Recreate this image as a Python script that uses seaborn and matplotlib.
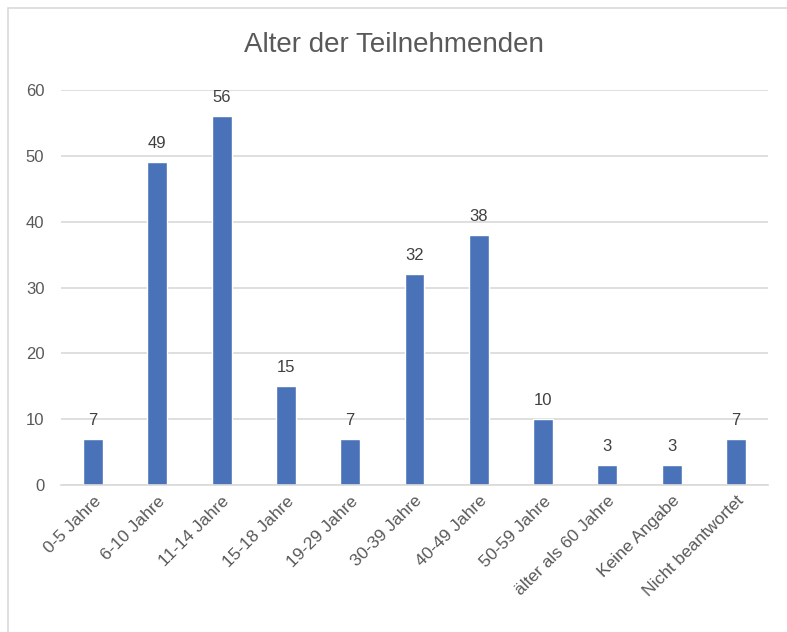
import numpy as np
import pandas as pd
import matplotlib
matplotlib.use("Agg")
import matplotlib.pyplot as plt
import seaborn as sns

# Daten aus dem Diagramm
kategorien = ["0-5 Jahre", "6-10 Jahre", "11-14 Jahre", "15-18 Jahre", "19-29 Jahre",
              "30-39 Jahre", "40-49 Jahre", "50-59 Jahre", "älter als 60 Jahre",
              "Keine Angabe", "Nicht beantwortet"]
anzahl = [7, 49, 56, 15, 7, 32, 38, 10, 3, 3, 7]
y_ticks = [0, 10, 20, 30, 40, 50, 60]

df = pd.DataFrame({"Alter": kategorien, "Anzahl": anzahl})

sns.set_theme(style="white")
plt.rcParams['font.family'] = ['Liberation Sans', 'DejaVu Sans']

fig = plt.figure(figsize=(7.87, 6.32), dpi=100)
ax = fig.add_axes([61/787, 1 - 485/632, (768 - 61)/787, (485 - 90)/632])

sns.barplot(data=df, x="Alter", y="Anzahl", color="#4A72B9", width=0.31,
            saturation=1, ax=ax)

# Datenbeschriftungen
for cont in ax.containers:
    ax.bar_label(cont, padding=8, fontsize=12, color="#404040")

ax.set_ylim(0, 60)
ax.set_yticks(y_ticks)
ax.set_xlim(-0.5, len(kategorien) - 0.5)
ax.yaxis.grid(True, color="#D9D9D9", linewidth=1.2)
ax.set_axisbelow(True)
for s in ["top", "right", "left"]:
    ax.spines[s].set_visible(False)
ax.spines["bottom"].set_color("#D9D9D9")
ax.spines["bottom"].set_linewidth(1.2)

ax.set_xlabel("")
ax.set_ylabel("")
ax.tick_params(axis="both", length=0, colors="#595959", labelsize=12.5)
ax.tick_params(axis="x", pad=6)
ax.tick_params(axis="y", labelsize=12, pad=12)
plt.setp(ax.get_xticklabels(), rotation=45, ha="right", rotation_mode="anchor")

fig.text(0.5, 1 - 45/632, "Alter der Teilnehmenden", ha="center", va="center",
         fontsize=20, color="#595959")

# Rahmen des Diagrammbereichs
fig.add_artist(plt.Rectangle((8/787, -0.1), 1.2, 1 - 8/632 + 0.1, transform=fig.transFigure,
                             fill=False, edgecolor="#D9D9D9", linewidth=1.2))

plt.savefig("out.png", dpi=100)
